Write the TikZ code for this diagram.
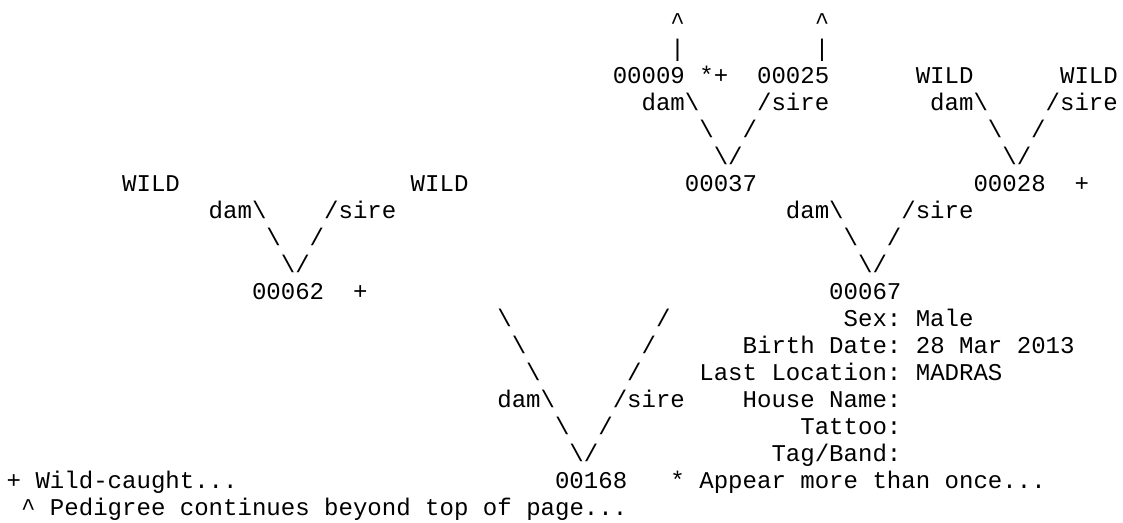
\documentclass[tikz,border=0pt]{standalone}
\usepackage{fontspec}
\newfontfamily\pedfont{Liberation Mono}
\newcommand{\bs}{\textbackslash}
\begin{document}
\begin{tikzpicture}[
        x=10.8225pt, y=-20.25pt,
        ch/.style={anchor=base west, inner sep=0pt, outer sep=0pt,
                   font={\pedfont\fontsize{18.04pt}{20.25pt}\selectfont\frenchspacing}}]

    \path[use as bounding box, fill=white] (-0.4643,-1.0741) rectangle (77.359,18.296);

    % --- 00037: 00009 x 00025
    \node[ch] (upA)    at (46,0) {\textasciicircum};
    \node[ch] (upB)    at (56,0) {\textasciicircum};
    \node[ch] (barA)   at (46,1) {|};
    \node[ch] (barB)   at (56,1) {|};
    \node[ch] (id009)  at (42,2) {00009};
    \node[ch] (mk009)  at (48,2) {*+};
    \node[ch] (id025)  at (52,2) {00025};
    \node[ch] (dam037) at (44,3) {dam\bs};
    \node[ch] (sir037) at (52,3) {/sire};
    \node[ch] (la037)  at (48,4) {\bs};
    \node[ch] (ra037)  at (51,4) {/};
    \node[ch] (v037)   at (49,5) {\bs/};
    \node[ch] (id037)  at (47,6) {00037};

    % --- 00028: WILD x WILD
    \node[ch] (wd028)  at (63,2) {WILD};
    \node[ch] (ws028)  at (73,2) {WILD};
    \node[ch] (dam028) at (64,3) {dam\bs};
    \node[ch] (sir028) at (72,3) {/sire};
    \node[ch] (la028)  at (68,4) {\bs};
    \node[ch] (ra028)  at (71,4) {/};
    \node[ch] (v028)   at (69,5) {\bs/};
    \node[ch] (id028)  at (67,6) {00028};
    \node[ch] (mk028)  at (74,6) {+};

    % --- 00062: WILD x WILD
    \node[ch] (wd062)  at (8,6)  {WILD};
    \node[ch] (ws062)  at (28,6) {WILD};
    \node[ch] (dam062) at (14,7) {dam\bs};
    \node[ch] (sir062) at (22,7) {/sire};
    \node[ch] (la062)  at (18,8) {\bs};
    \node[ch] (ra062)  at (21,8) {/};
    \node[ch] (v062)   at (19,9) {\bs/};
    \node[ch] (id062)  at (17,10) {00062};
    \node[ch] (mk062)  at (24,10) {+};

    % --- 00067: 00037 x 00028
    \node[ch] (dam067) at (54,7) {dam\bs};
    \node[ch] (sir067) at (62,7) {/sire};
    \node[ch] (la067)  at (58,8) {\bs};
    \node[ch] (ra067)  at (61,8) {/};
    \node[ch] (v067)   at (59,9) {\bs/};
    \node[ch] (id067)  at (57,10) {00067};

    % --- 00168: 00062 x 00067
    \node[ch] (la168a) at (34,11) {\bs};
    \node[ch] (ra168a) at (45,11) {/};
    \node[ch] (la168b) at (35,12) {\bs};
    \node[ch] (ra168b) at (44,12) {/};
    \node[ch] (la168c) at (36,13) {\bs};
    \node[ch] (ra168c) at (43,13) {/};
    \node[ch] (dam168) at (34,14) {dam\bs};
    \node[ch] (sir168) at (42,14) {/sire};
    \node[ch] (la168d) at (38,15) {\bs};
    \node[ch] (ra168d) at (41,15) {/};
    \node[ch] (v168)   at (39,16) {\bs/};
    \node[ch] (id168)  at (38,17) {00168};

    % --- data of 00067
    \node[ch] (sex)    at (58,11) {Sex: Male};
    \node[ch] (birth)  at (51,12) {Birth Date: 28 Mar 2013};
    \node[ch] (loc)    at (48,13) {Last Location: MADRAS};
    \node[ch] (house)  at (51,14) {House Name:};
    \node[ch] (tattoo) at (55,15) {Tattoo:};
    \node[ch] (tag)    at (53,16) {Tag/Band:};

    % --- legend
    \node[ch] (wild)   at (0,17)  {+ Wild-caught...};
    \node[ch] (twice)  at (46,17) {* Appear more than once...};
    \node[ch] (beyond) at (1,18)  {\textasciicircum{} Pedigree continues beyond top of page...};

\end{tikzpicture}
\end{document}
